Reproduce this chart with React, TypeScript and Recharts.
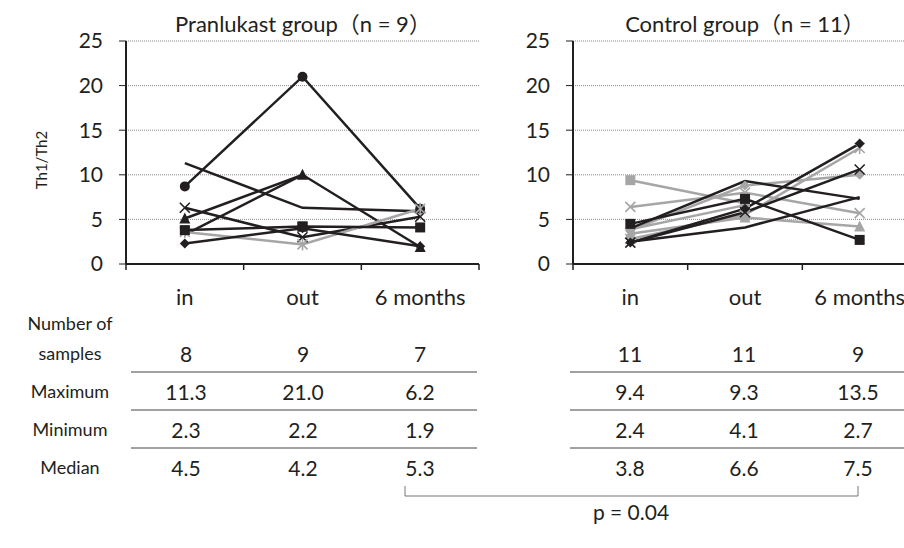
import React from 'react';
import { LineChart, Line, XAxis, YAxis, CartesianGrid } from 'recharts';

// ---------------- data ----------------
const categories = ['in', 'out', '6 months'];
const yTicks = [0, 5, 10, 15, 20, 25];

// Pranlukast group (n = 9)
const pranCircle = [8.7, 21.0, 6.2];
const pranPlain1 = [11.3, 6.3, 5.9];
const pranTriangle = [5.1, 10.0, 1.9];
const pranPlain2 = [3.3, 10.0, null];
const pranCross = [6.3, 3.0, 5.3];
const pranSquare = [3.8, 4.2, 4.1];
const pranStarGray = [3.6, 2.2, 6.2];
const pranDiamond = [2.3, 4.0, 2.0];
const pranOutOnly = [null, 4.2, null];

// Control group (n = 11)
const ctrlDiamond = [2.4, 6.2, 13.5];
const ctrlStarGray = [2.8, 5.5, 13.0];
const ctrlCross = [2.4, 5.8, 10.6];
const ctrlDiamondGray = [3.8, 8.8, 10.0];
const ctrlPlain1 = [4.0, 9.3, 7.3];
const ctrlPlain2 = [2.5, 4.1, 7.5];
const ctrlSquareGray = [9.4, 6.8, null];
const ctrlCrossGray = [6.4, 8.0, 5.7];
const ctrlSquare = [4.5, 7.3, 2.7];
const ctrlTriangleGray = [3.4, 5.2, 4.2];
const ctrlCircleGray = [3.9, 6.6, null];

// table
const rowLabels = ['Maximum', 'Minimum', 'Median'];
const pranCounts = ['8', '9', '7'];
const pranMax = ['11.3', '21.0', '6.2'];
const pranMin = ['2.3', '2.2', '1.9'];
const pranMedian = ['4.5', '4.2', '5.3'];
const ctrlCounts = ['11', '11', '9'];
const ctrlMax = ['9.4', '9.3', '13.5'];
const ctrlMin = ['2.4', '4.1', '2.7'];
const ctrlMedian = ['3.8', '6.6', '7.5'];
const pText = 'p = 0.04';

// ---------------- styles ----------------
const BLACK = '#231f20';
const GRAY = '#a6a6a6';
const TEXT = '#231f20';
const FONT = "Lato, 'Noto Sans CJK JP', 'Noto Sans', sans-serif";

type Series = { key: string; values: (number | null)[]; color: string; marker: string };

const pranSeries: Series[] = [
  { key: 'p1', values: pranCircle, color: BLACK, marker: 'circle' },
  { key: 'p2', values: pranPlain1, color: BLACK, marker: 'none' },
  { key: 'p3', values: pranTriangle, color: BLACK, marker: 'triangle' },
  { key: 'p4', values: pranPlain2, color: BLACK, marker: 'none' },
  { key: 'p5', values: pranCross, color: BLACK, marker: 'x' },
  { key: 'p6', values: pranStarGray, color: GRAY, marker: 'star' },
  { key: 'p7', values: pranSquare, color: BLACK, marker: 'square' },
  { key: 'p8', values: pranDiamond, color: BLACK, marker: 'diamond' },
  { key: 'p9', values: pranOutOnly, color: BLACK, marker: 'square' },
];

const ctrlSeries: Series[] = [
  { key: 'c7', values: ctrlSquareGray, color: GRAY, marker: 'square' },
  { key: 'c8', values: ctrlCrossGray, color: GRAY, marker: 'x' },
  { key: 'c10', values: ctrlTriangleGray, color: GRAY, marker: 'triangle' },
  { key: 'c11', values: ctrlCircleGray, color: GRAY, marker: 'circle' },
  { key: 'c4', values: ctrlDiamondGray, color: GRAY, marker: 'diamond' },
  { key: 'c2', values: ctrlStarGray, color: GRAY, marker: 'star' },
  { key: 'c5', values: ctrlPlain1, color: BLACK, marker: 'none' },
  { key: 'c6', values: ctrlPlain2, color: BLACK, marker: 'none' },
  { key: 'c9', values: ctrlSquare, color: BLACK, marker: 'square' },
  { key: 'c3', values: ctrlCross, color: BLACK, marker: 'x' },
  { key: 'c1', values: ctrlDiamond, color: BLACK, marker: 'diamond' },
];

function buildRows(series: Series[]) {
  return categories.map((c, i) => {
    const row: any = { pos: i + 0.5, cat: c };
    series.forEach((s) => {
      row[s.key] = s.values[i];
    });
    return row;
  });
}

const pranRows = buildRows(pranSeries);
const ctrlRows = buildRows(ctrlSeries);

function Marker(props: any) {
  const { cx, cy, value, shape, color } = props;
  if (cx == null || cy == null || value == null || shape === 'none') return <g />;
  const s = 5;
  switch (shape) {
    case 'circle':
      return <circle cx={cx} cy={cy} r={s} fill={color} />;
    case 'square':
      return <rect x={cx - s} y={cy - s} width={2 * s} height={2 * s} fill={color} />;
    case 'triangle':
      return (
        <polygon
          points={`${cx},${cy - s - 1} ${cx + s + 0.5},${cy + s} ${cx - s - 0.5},${cy + s}`}
          fill={color}
        />
      );
    case 'diamond':
      return (
        <polygon points={`${cx},${cy - s} ${cx + s},${cy} ${cx},${cy + s} ${cx - s},${cy}`} fill={color} />
      );
    case 'x':
      return (
        <g stroke={color} strokeWidth={1.6}>
          <line x1={cx - s} y1={cy - s} x2={cx + s} y2={cy + s} />
          <line x1={cx - s} y1={cy + s} x2={cx + s} y2={cy - s} />
        </g>
      );
    case 'star':
      return (
        <g stroke={color} strokeWidth={1.6}>
          <line x1={cx - s} y1={cy - s} x2={cx + s} y2={cy + s} />
          <line x1={cx - s} y1={cy + s} x2={cx + s} y2={cy - s} />
          <line x1={cx} y1={cy - s - 1} x2={cx} y2={cy + s + 1} />
        </g>
      );
    default:
      return <g />;
  }
}

function XTick(props: any) {
  const { x, y, payload } = props;
  const v = payload.value as number;
  if (Number.isInteger(v)) {
    return <line x1={x} x2={x} y1={y} y2={y + 6} stroke={BLACK} strokeWidth={1.5} />;
  }
  const idx = Math.floor(v);
  return (
    <text x={x} y={y + 41} textAnchor="middle" fontSize={22} fill={TEXT} fontFamily={FONT}>
      {categories[idx]}
    </text>
  );
}

function Panel({ rows, series, width }: { rows: any[]; series: Series[]; width: number; }) {
  return (
    <LineChart
      width={width}
      height={314}
      data={rows}
      margin={{ top: 41, right: 4, left: 0, bottom: 0 }}
    >
      <CartesianGrid vertical={false} stroke="#8a8a8a" strokeDasharray="1 1" />
      <XAxis
        dataKey="pos"
        type="number"
        domain={[0, 3]}
        ticks={[0, 0.5, 1, 1.5, 2, 2.5, 3]}
        interval={0}
        height={50}
        tickSize={0}
        tickMargin={0}
        tickLine={false}
        axisLine={{ stroke: BLACK, strokeWidth: 2 }}
        tick={<XTick />}
      />
      <YAxis
        type="number"
        domain={[0, 25]}
        ticks={yTicks}
        interval={0}
        width={126}
        tickSize={7}
        tickMargin={16}
        axisLine={{ stroke: BLACK, strokeWidth: 2 }}
        tickLine={{ stroke: BLACK, strokeWidth: 1 }}
        tick={{ fontSize: 21, fill: TEXT, fontFamily: FONT }}
      />
      {series.map((s) => (
        <Line
          key={s.key}
          dataKey={s.key}
          stroke={s.color}
          strokeWidth={2.5}
          isAnimationActive={false}
          connectNulls={false}
          dot={(p: any) => {
            const { key, ...rest } = p;
            return <Marker key={`${s.key}-${p.index}`} {...rest} shape={s.marker} color={s.color} />;
          }}
          activeDot={false}
        />
      ))}
    </LineChart>
  );
}

function T({ x, y, text, size = 20, anchor = 'middle' }: any) {
  const tx = anchor === 'middle' ? '-50%' : anchor === 'end' ? '-100%' : '0';
  return (
    <div
      style={{
        position: 'absolute',
        left: x,
        top: y,
        transform: `translate(${tx}, -50%)`,
        fontSize: size,
        lineHeight: 1,
        whiteSpace: 'nowrap',
        color: TEXT,
        fontFamily: FONT,
      }}
    >
      {text}
    </div>
  );
}

const leftCols = [186, 303, 420];
const rightCols = [630, 744, 858];
const rowYs = [353, 391, 429, 467];
const sepYs = [372, 410, 448];

export default function App() {
  return (
    <div
      style={{
        position: 'fixed',
        left: 0,
        top: 0,
        width: 904,
        height: 548,
        overflow: 'hidden',
        background: '#fff',
        fontFamily: FONT,
      }}
    >
      <div style={{ position: 'absolute', left: 0, top: 0 }}>
        <Panel rows={pranRows} series={pranSeries} width={483} />
      </div>
      <div style={{ position: 'absolute', left: 447, top: 0 }}>
        <Panel rows={ctrlRows} series={ctrlSeries} width={474} />
      </div>

      <T x={303} y={24} text="Pranlukast group（n = 9）" size={22} />
      <T x={745} y={24} text="Control group（n = 11）" size={22} />
      <div
        style={{
          position: 'absolute',
          left: 41,
          top: 160,
          transform: 'translate(-50%, -50%) rotate(-90deg)',
          fontSize: 15,
          lineHeight: 1,
          whiteSpace: 'nowrap',
          color: TEXT,
          fontFamily: FONT,
        }}
      >
        Th1/Th2
      </div>

      <T x={70} y={323} text="Number of" size={18} />
      <T x={70} y={353} text="samples" size={18} />
      {rowLabels.map((l, i) => (
        <T key={l} x={70} y={rowYs[i + 1]} text={l} size={18} />
      ))}

      {[pranCounts, pranMax, pranMin, pranMedian].map((row, r) =>
        row.map((v, c) => <T key={`l${r}-${c}`} x={leftCols[c]} y={rowYs[r]} text={v} size={21} />)
      )}
      {[ctrlCounts, ctrlMax, ctrlMin, ctrlMedian].map((row, r) =>
        row.map((v, c) => <T key={`r${r}-${c}`} x={rightCols[c]} y={rowYs[r]} text={v} size={21} />)
      )}

      <svg width={904} height={548} style={{ position: 'absolute', left: 0, top: 0, pointerEvents: 'none' }}>
        {sepYs.map((y) => (
          <g key={y} stroke="#444" strokeWidth={1}>
            <line x1={131} x2={477} y1={y} y2={y} />
            <line x1={570} x2={904} y1={y} y2={y} />
          </g>
        ))}
        <polyline points="405,486 405,496 858,496 858,486" fill="none" stroke="#777" strokeWidth={1} />
      </svg>
      <T x={631} y={511} text={pText} size={21} />
    </div>
  );
}
